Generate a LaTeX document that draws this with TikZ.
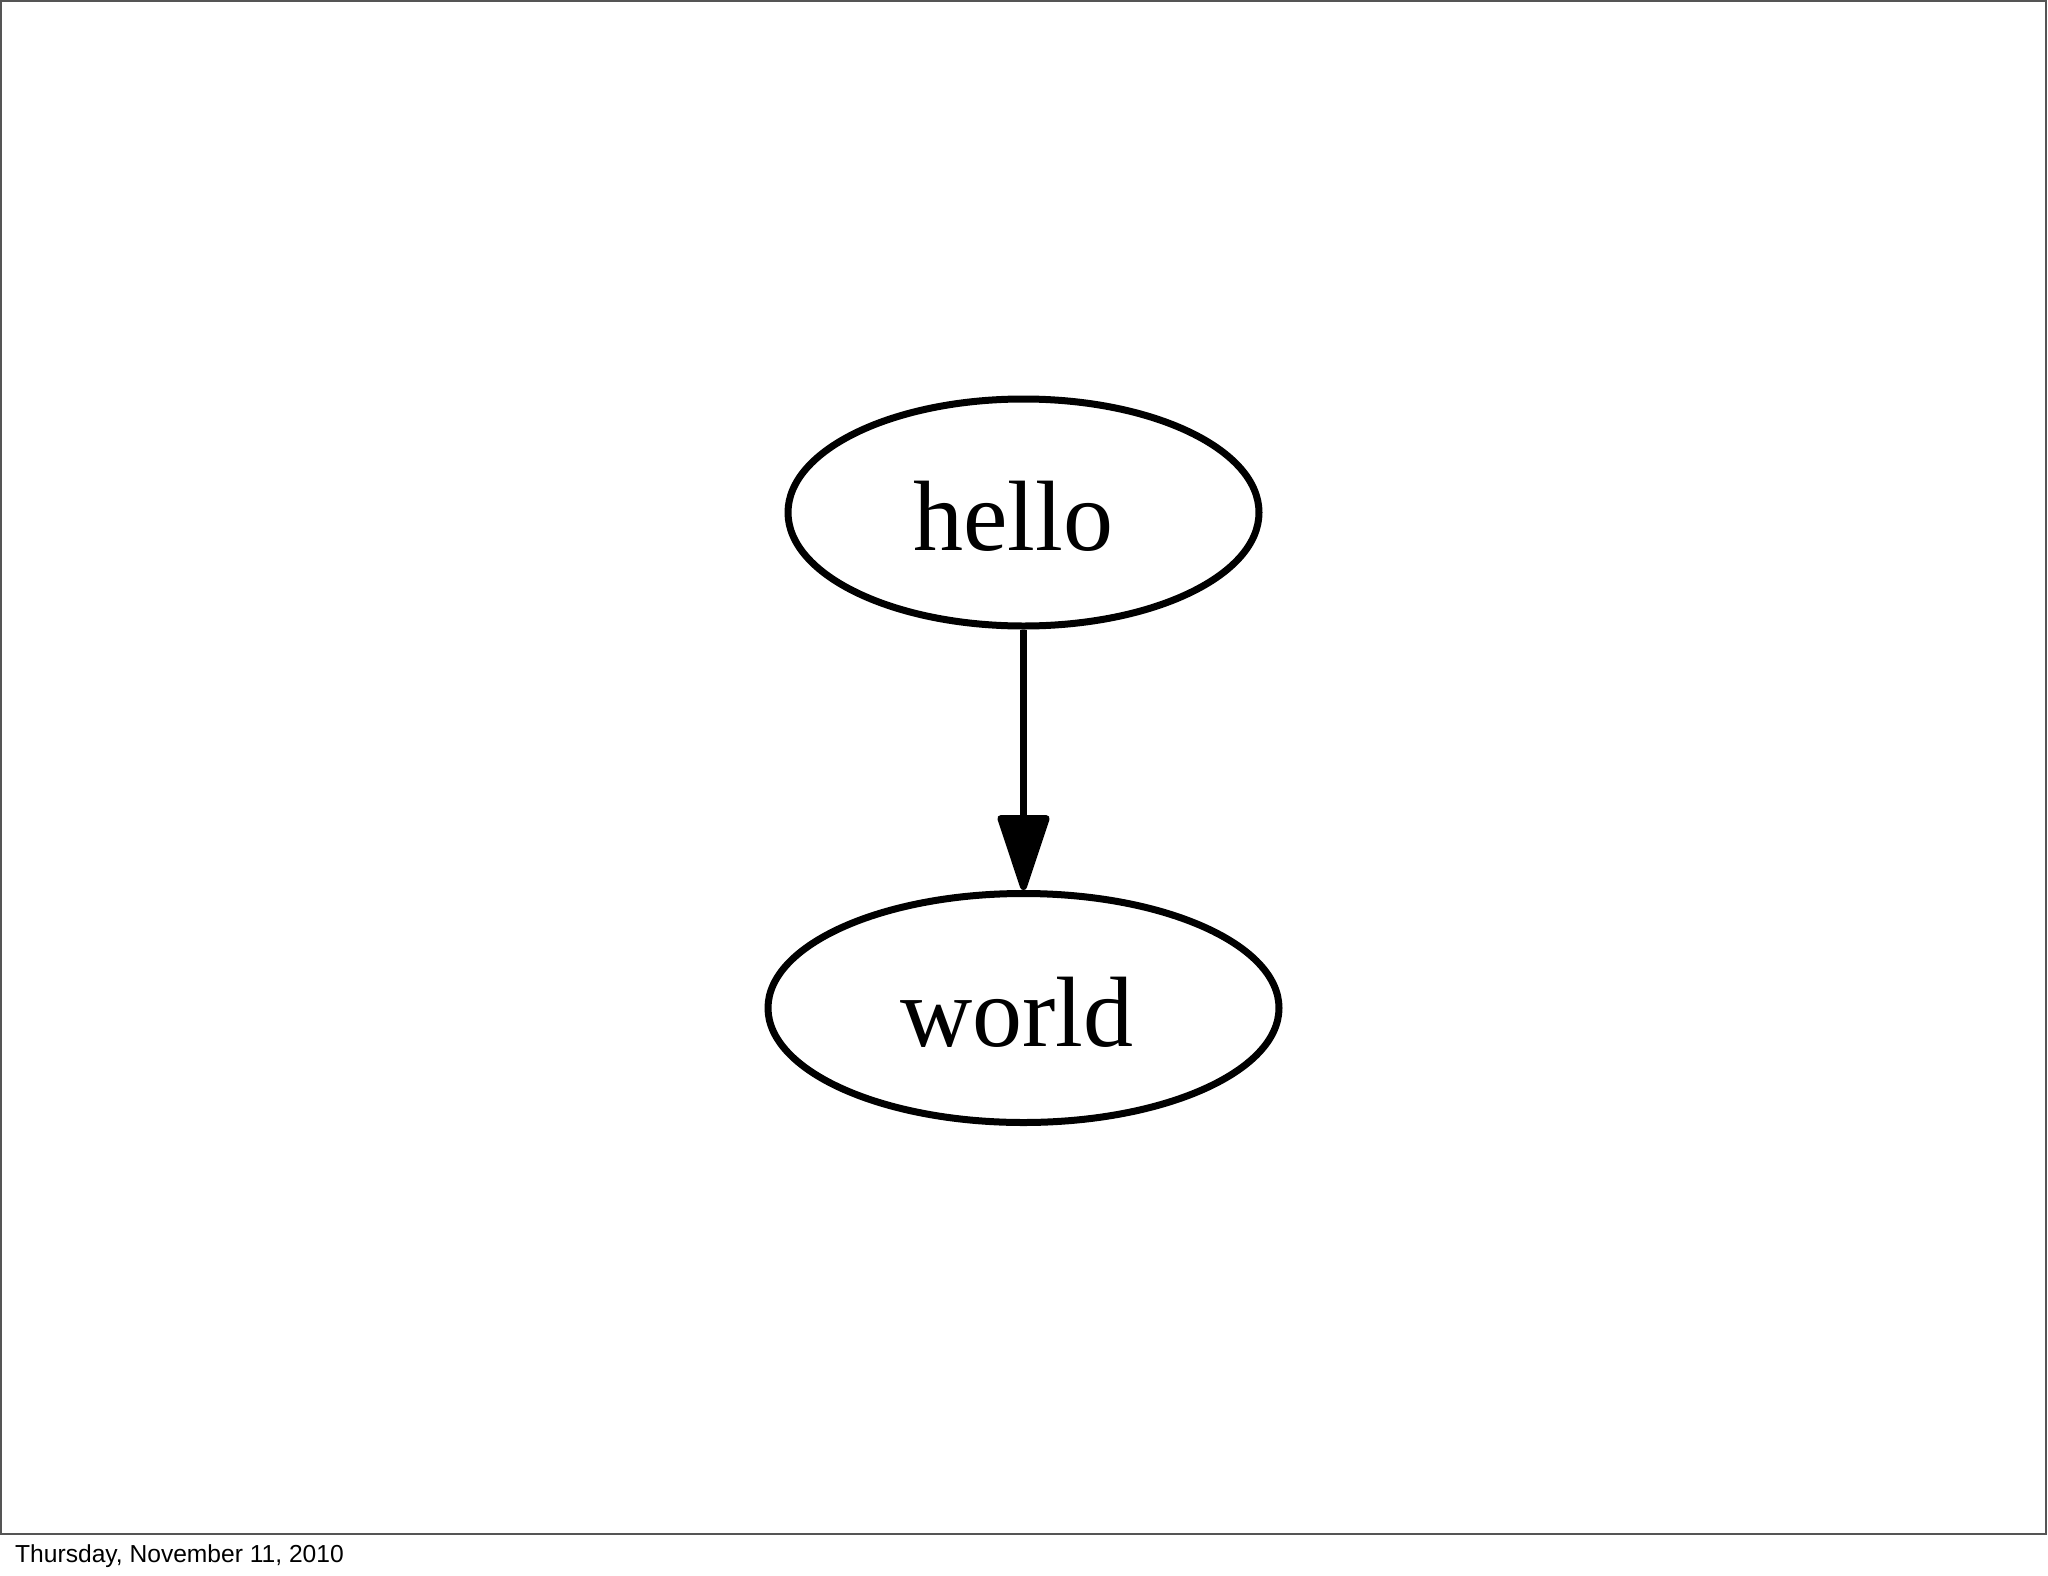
\documentclass[tikz,border=0pt]{standalone}
\usepackage{fontspec}
\setmainfont{Liberation Serif}
\setsansfont{Liberation Sans}
\usetikzlibrary{shapes.geometric,arrows.meta}
\definecolor{framegray}{HTML}{555555}
\tikzset{
  gvnode/.style={draw=black, ellipse, line width=7pt, inner sep=0pt,
    text height=76pt, text depth=0pt,
    font=\fontsize{100}{110}\selectfont},
  gvedge/.style={draw=black, line width=7pt,
    -{Triangle[length=83pt,width=53pt,round]}},
  datelabel/.style={inner sep=0pt, anchor=base west,
    font=\sffamily\fontsize{24.6}{28}\selectfont}
}
\begin{document}
\begin{tikzpicture}[x=1pt,y=-1pt]
\useasboundingbox (0,0) rectangle (2048,1576);
\draw[framegray, line width=2.5pt] (1,1) rectangle (2046,1534);
\node[gvnode, minimum width=471pt, minimum height=227pt] (hello) at (1023.5,512.5) {hello\kern20pt};
\node[gvnode, minimum width=511pt, minimum height=229pt] (world) at (1023.5,1008) {world\kern13pt};
\draw[gvedge] (hello.south) -- (world.north);
\node[datelabel] (date) at (15,1562) {Thursday, November 11, 2010};
\end{tikzpicture}
\end{document}
